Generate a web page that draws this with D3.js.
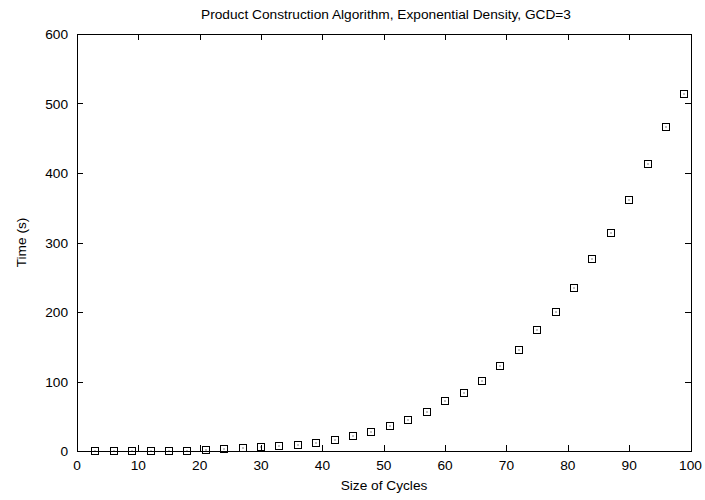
<!DOCTYPE html>
<html>
<head>
<meta charset="utf-8">
<script src="https://cdn.jsdelivr.net/npm/d3@7"></script>
<style>
  body { margin: 0; background: #fff; }
  svg text { font-family: "Liberation Sans", Arial, Helvetica, sans-serif; fill: #000; }
</style>
</head>
<body>
<div id="chart"></div>
<script>
// data
var cycleSizes = [3, 6, 9, 12, 15, 18, 21, 24, 27, 30, 33, 36, 39, 42, 45, 48, 51,
                  54, 57, 60, 63, 66, 69, 72, 75, 78, 81, 84, 87, 90, 93, 96, 99];
var times = [0, 0, 0.1, 0.2, 0.3, 0.5, 1.0, 2.5, 3.8, 5.2, 7.1, 9.2, 12, 16.3, 21, 27, 35.5,
             44.6, 56.6, 71.5, 83.5, 100.6, 122, 145, 174, 200.5, 234.5, 276, 313, 360.5, 412.5, 466, 514];
var xTicks = [0, 10, 20, 30, 40, 50, 60, 70, 80, 90, 100];
var yTicks = [0, 100, 200, 300, 400, 500, 600];

var width = 705, height = 500;
var margin = {top: 34, right: 14.5, bottom: 49, left: 77};

var svg = d3.select("#chart").append("svg")
    .attr("width", width)
    .attr("height", height);

var x = d3.scaleLinear().domain([0, 100]).range([margin.left, width - margin.right]);
var y = d3.scaleLinear().domain([0, 600]).range([height - margin.bottom, margin.top]);

var tickLen = 6;

// frame
svg.append("rect")
    .attr("x", Math.round(x(0)) + 0.5)
    .attr("y", Math.round(y(600)) + 0.5)
    .attr("width", Math.round(x(100)) - Math.round(x(0)))
    .attr("height", Math.round(y(0)) - Math.round(y(600)))
    .attr("fill", "none")
    .attr("stroke", "#000")
    .attr("stroke-width", 1);

// ticks, drawn inward on all four sides
var g = svg.append("g").attr("stroke", "#000").attr("stroke-width", 1);
xTicks.slice(1, -1).forEach(function(t) {
    var px = Math.round(x(t)) + 0.5;
    g.append("line").attr("x1", px).attr("x2", px)
        .attr("y1", Math.round(y(0))).attr("y2", Math.round(y(0)) - tickLen);
    g.append("line").attr("x1", px).attr("x2", px)
        .attr("y1", Math.round(y(600))).attr("y2", Math.round(y(600)) + tickLen);
});
yTicks.slice(1, -1).forEach(function(t) {
    var py = Math.round(y(t)) + 0.5;
    g.append("line").attr("y1", py).attr("y2", py)
        .attr("x1", Math.round(x(0))).attr("x2", Math.round(x(0)) + tickLen);
    g.append("line").attr("y1", py).attr("y2", py)
        .attr("x1", Math.round(x(100))).attr("x2", Math.round(x(100)) - tickLen);
});

// tick labels
svg.append("g").selectAll("text")
    .data(xTicks)
    .enter().append("text")
    .attr("x", function(d) { return x(d); })
    .attr("y", y(0) + 19)
    .attr("text-anchor", "middle")
    .style("font-size", "13.7px")
    .text(function(d) { return d; });

svg.append("g").selectAll("text")
    .data(yTicks)
    .enter().append("text")
    .attr("x", x(0) - 9)
    .attr("y", function(d) { return y(d) + 5; })
    .attr("text-anchor", "end")
    .style("font-size", "13.7px")
    .text(function(d) { return d; });

// titles
svg.append("text")
    .attr("x", 386)
    .attr("y", 19)
    .attr("text-anchor", "middle")
    .style("font-size", "13.7px")
    .text("Product Construction Algorithm, Exponential Density, GCD=3");

svg.append("text")
    .attr("x", 384)
    .attr("y", 490)
    .attr("text-anchor", "middle")
    .style("font-size", "13.7px")
    .text("Size of Cycles");

svg.append("text")
    .attr("transform", "translate(25.5," + ((y(0) + y(600)) / 2) + ") rotate(-90)")
    .attr("text-anchor", "middle")
    .style("font-size", "13.7px")
    .text("Time (s)");

// points: open squares with a dot
var pts = svg.append("g")
    .selectAll(".point")
    .data(cycleSizes.map(function(c, i) { return [c, times[i]]; }))
    .enter().append("g")
    .attr("class", "point")
    .attr("transform", function(d) {
        return "translate(" + Math.round(x(d[0])) + "," + Math.round(y(d[1])) + ")";
    });

pts.append("rect")
    .attr("x", -3.5).attr("y", -3.5)
    .attr("width", 7).attr("height", 7)
    .attr("fill", "none")
    .attr("stroke", "#000")
    .attr("stroke-width", 1);

pts.append("rect")
    .attr("x", -0.5).attr("y", -0.5)
    .attr("width", 1).attr("height", 1)
    .attr("fill", "#000");
</script>
</body>
</html>
